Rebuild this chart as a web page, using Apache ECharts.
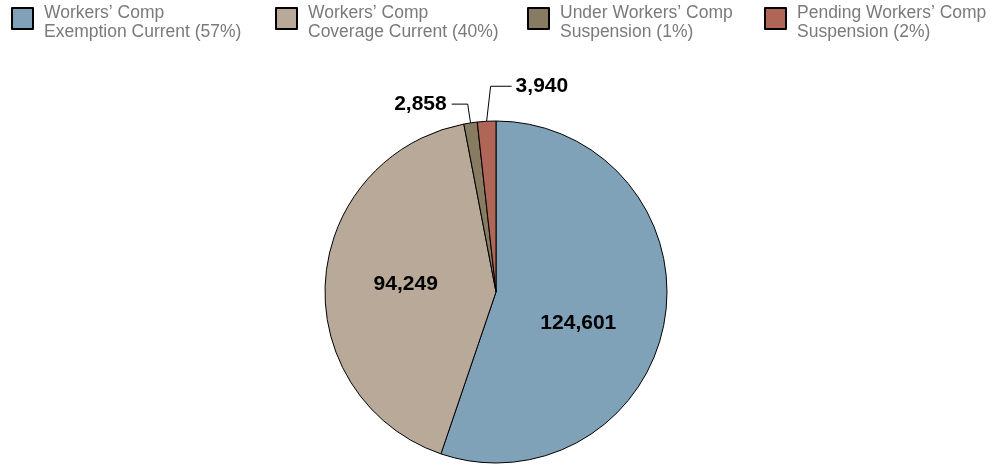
<!DOCTYPE html>
<html>
<head>
<meta charset="utf-8">
<script src="https://cdn.jsdelivr.net/npm/echarts@6/dist/echarts.min.js"></script>
<style>
  html, body { margin: 0; padding: 0; background: #fff; }
  #chart { width: 997px; height: 466px; }
</style>
</head>
<body>
<div id="chart"></div>
<script>
// Workers' comp status breakdown
const categories = [
  'Workers’ Comp\nExemption Current (57%)',
  'Workers’ Comp\nCoverage Current (40%)',
  'Under Workers’ Comp\nSuspension (1%)',
  'Pending Workers’ Comp\nSuspension (2%)'
];
const counts = [124601, 94249, 2858, 3940];

const sliceColors = ['#7fa2b8', '#b8a999', '#877b62', '#b06656'];
const legendLefts = [11, 275, 527, 764];
const FONT = '"Liberation Sans", Arial, Helvetica, sans-serif';

const chart = echarts.init(document.getElementById('chart'), null, { renderer: 'canvas' });

const fmt = v => v.toLocaleString('en-US');

// big slices carry their value inside; the thin ones get a leader line
const seriesData = categories.map((name, i) => {
  const small = counts[i] < 10000;
  const item = {
    name: name,
    value: counts[i],
    itemStyle: { color: sliceColors[i] },
    label: small
      ? { position: 'outside' }
      : { position: 'inside' },
    labelLine: small ? { show: true, length: 19, length2: 16 } : { show: false }
  };
  if (i === 0) item.label.offset = [-5, 17];
  if (i === 1) item.label.offset = [-2, -2];
  return item;
});

// swatch and caption are placed separately so the swatch can sit higher than the two-line text
const swatchLegends = categories.map((name, i) => ({
  data: [name],
  left: legendLefts[i],
  top: 7,
  padding: 0,
  icon: 'rect',
  itemWidth: 21,
  itemHeight: 21,
  selectedMode: false,
  formatter: () => '',
  textStyle: { fontSize: 1, lineHeight: 1 }
}));

const captionLegends = categories.map((name, i) => ({
  data: [name],
  left: legendLefts[i] + 28,
  top: 4,
  padding: 0,
  icon: 'none',
  itemWidth: 0,
  itemHeight: 1,
  selectedMode: false,
  textStyle: {
    fontFamily: FONT,
    fontSize: 17.5,
    color: '#7a7a7a',
    lineHeight: 19
  }
}));

chart.setOption({
  backgroundColor: '#ffffff',
  animation: false,
  legend: swatchLegends.concat(captionLegends),
  series: [{
    type: 'pie',
    center: [496, 292],
    radius: [0, 171],
    startAngle: 90,
    clockwise: true,
    avoidLabelOverlap: false,
    itemStyle: { borderColor: '#000', borderWidth: 1 },
    label: {
      show: true,
      formatter: p => fmt(p.value),
      fontFamily: FONT,
      fontSize: 21,
      fontWeight: 'bold',
      color: '#000'
    },
    labelLine: { lineStyle: { color: '#000', width: 1 } },
    emphasis: { disabled: true },
    labelLayout: function (p) {
      // the last slice sits just left of 12 o'clock; send its label to the right
      if (p.dataIndex !== 3 || !p.labelLinePoints) return {};
      const a = p.labelLinePoints[0];
      const b = [a[0] + 4, a[1] - 35];
      const c = [b[0] + 21, b[1]];
      return {
        x: c[0] + 4,
        y: c[1],
        align: 'left',
        verticalAlign: 'middle',
        labelLinePoints: [a, b, c]
      };
    },
    data: seriesData
  }]
});
</script>
</body>
</html>
